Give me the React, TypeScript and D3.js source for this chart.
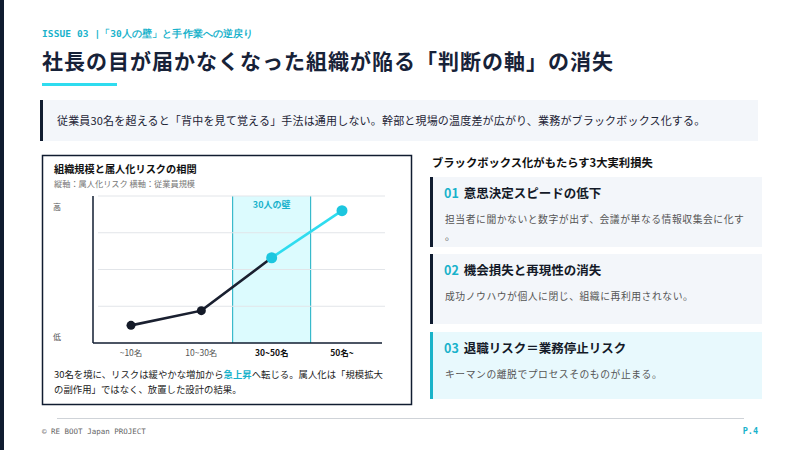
import React from "react";
import * as d3 from "d3";

const categories = ["~10名", "10~30名", "30~50名", "50名~"];
const riskValues = [12, 22, 58, 90];
const yTicks = [0, 25, 50, 75, 100];
const highlightCategory = "30~50名";
const boldCategories = ["30~50名", "50名~"];

const issueLabel = "ISSUE 03 |「30人の壁」と手作業への逆戻り";
const mainTitle = "社長の目が届かなくなった組織が陥る「判断の軸」の消失";
const calloutText = "従業員30名を超えると「背中を見て覚える」手法は通用しない。幹部と現場の温度差が広がり、業務がブラックボックス化する。";
const chartTitle = "組織規模と属人化リスクの相関";
const chartSubtitle = "縦軸：属人化リスク 横軸：従業員規模";
const rightHeading = "ブラックボックス化がもたらす3大実利損失";
const cardNums = ["01", "02", "03"];
const cardTitles = ["意思決定スピードの低下", "機会損失と再現性の消失", "退職リスク＝業務停止リスク"];
const cardBodies = [
  ["担当者に聞かないと数字が出ず、会議が単なる情報収集会に化す", "。"],
  ["成功ノウハウが個人に閉じ、組織に再利用されない。"],
  ["キーマンの離脱でプロセスそのものが止まる。"],
];

const NAVY = "#101c30";
const CYAN_TXT = "#19b2cb";
const CYAN_LINE = "#2fdcef";
const FONT = "'Noto Sans CJK JP', 'Noto Sans', sans-serif";
const MONO = "'DejaVu Sans Mono', 'Liberation Mono', monospace";

export default function App() {
  const plotLeft = 93;
  const plotRight = 385;
  const plotTop = 196;
  const plotBottom = 343;

  const x = d3.scalePoint<string>().domain(categories).range([131, 342]);
  const y = d3.scaleLinear().domain([0, 100]).range([plotBottom, plotTop]);
  const pts = categories.map((c, i) => [x(c) as number, y(riskValues[i])] as [number, number]);
  const line = d3.line<[number, number]>().x((d) => d[0]).y((d) => d[1]);
  const darkPath = line(pts.slice(0, 3)) || "";
  const cyanPath = line(pts.slice(2)) || "";
  const hx = x(highlightCategory) as number;
  const bandHalf = 39;

  const cardTops = [177, 254, 332];
  const cardH = [70, 70, 67];

  return (
    <div style={{ position: "fixed", left: 0, top: 0, width: 800, height: 450, background: "#fff" }}>
      <svg width={800} height={450} style={{ display: "block", fontFamily: FONT }}>
        <rect x={0} y={0} width={800} height={450} fill="#ffffff" />
        <rect x={0} y={0} width={4} height={450} fill={NAVY} />

        <text x={42} y={37} fontFamily={MONO} fontSize={9.5} fontWeight={700} fill={CYAN_TXT} letterSpacing={0.1}>
          {issueLabel}
        </text>
        <text x={42} y={69} fontSize={21} fontWeight={700} fill="#172238" letterSpacing={1}>
          {mainTitle}
        </text>
        <rect x={42} y={83} width={75} height={3} fill={CYAN_LINE} />

        {/* callout */}
        <rect x={40} y={100} width={718} height={41} fill="#f3f6fa" />
        <rect x={40} y={100} width={3} height={41} fill={NAVY} />
        <text x={57} y={125} fontSize={11} fill="#1d2436" letterSpacing={0.18}>
          {calloutText}
        </text>

        {/* chart box */}
        <rect x={42.5} y={155.5} width={369} height={249} fill="#fff" stroke={NAVY} strokeWidth={1.5} />
        <text x={54} y={173} fontSize={10.2} fontWeight={700} fill="#111">
          {chartTitle}
        </text>
        <text x={54} y={187} fontSize={8.2} fill="#777">
          {chartSubtitle}
        </text>

        {/* highlight band */}
        <rect x={hx - bandHalf} y={plotTop} width={bandHalf * 2} height={plotBottom - plotTop} fill="#dcfbfe" />
        <line x1={hx - bandHalf} x2={hx - bandHalf} y1={plotTop} y2={plotBottom} stroke="#18aec2" strokeWidth={1} />
        <line x1={hx + bandHalf} x2={hx + bandHalf} y1={plotTop} y2={plotBottom} stroke="#18aec2" strokeWidth={1} />

        {/* grid */}
        {yTicks.slice(1).map((t) => (
          <line key={t} x1={98} x2={plotRight} y1={y(t)} y2={y(t)} stroke="#e2e5e9" strokeWidth={1} />
        ))}
        <text x={hx} y={208} textAnchor="middle" fontSize={9} fontWeight={700} fill={CYAN_TXT}>
          30人の壁
        </text>

        {/* axes */}
        <line x1={plotLeft} x2={plotLeft} y1={plotTop} y2={plotBottom} stroke={NAVY} strokeWidth={1.5} />
        <line x1={plotLeft} x2={382} y1={plotBottom} y2={plotBottom} stroke={NAVY} strokeWidth={1.5} />
        <text x={53} y={210} fontSize={8} fill="#555">高</text>
        <text x={53} y={340} fontSize={8} fill="#555">低</text>
        {categories.map((c) => (
          <text
            key={c}
            x={x(c) as number}
            y={356}
            textAnchor="middle"
            fontSize={8.5}
            fontWeight={boldCategories.includes(c) ? 700 : 400}
            fill={boldCategories.includes(c) ? "#111" : "#555"}
          >
            {c}
          </text>
        ))}

        {/* lines and dots */}
        <path d={darkPath} fill="none" stroke="#1a2030" strokeWidth={2.6} />
        <path d={cyanPath} fill="none" stroke={CYAN_LINE} strokeWidth={2.6} />
        {pts.map((p, i) => (
          <circle key={i} cx={p[0]} cy={p[1]} r={i < 2 ? 4.5 : 5.5} fill={i < 2 ? "#141a28" : "#1cc6df"} />
        ))}

        <text x={54} y={378} fontSize={9.4} fill="#222">
          30名を境に、リスクは緩やかな増加から
          <tspan fill={CYAN_TXT} fontWeight={700}>急上昇</tspan>
          へ転じる。属人化は「規模拡大
        </text>
        <text x={54} y={393} fontSize={9.4} fill="#222">
          の副作用」ではなく、放置した設計の結果。
        </text>

        {/* right side */}
        <text x={432} y={167} fontSize={11.3} fontWeight={700} fill="#111">
          {rightHeading}
        </text>
        {cardNums.map((n, i) => {
          const top = cardTops[i];
          const last = i === 2;
          return (
            <g key={n}>
              <rect x={430} y={top} width={332} height={cardH[i]} fill={last ? "#e8f9fd" : "#f3f6fa"} />
              <rect x={430} y={top} width={3} height={cardH[i]} fill={last ? "#1ab3c9" : NAVY} />
              <text x={444} y={top + 21} fontSize={12.5} fontWeight={700}>
                <tspan fill={CYAN_TXT}>{n}</tspan>
                <tspan dx={5} fill="#141a28">{cardTitles[i]}</tspan>
              </text>
              {cardBodies[i].map((l, j) => (
                <text key={j} x={445} y={top + 46 + j * 17} fontSize={9.8} fill="#555" letterSpacing={0.55}>
                  {l}
                </text>
              ))}
            </g>
          );
        })}

        {/* footer */}
        <line x1={57} x2={744} y1={418.5} y2={418.5} stroke="#cfd3d8" strokeWidth={1} />
        <text x={42} y={434} fontFamily={MONO} fontSize={7.5} fill="#666">
          © RE BOOT Japan PROJECT
        </text>
        <text x={758} y={434} textAnchor="end" fontFamily={MONO} fontSize={8.5} fontWeight={700} fill={CYAN_TXT}>
          P.4
        </text>
      </svg>
    </div>
  );
}
